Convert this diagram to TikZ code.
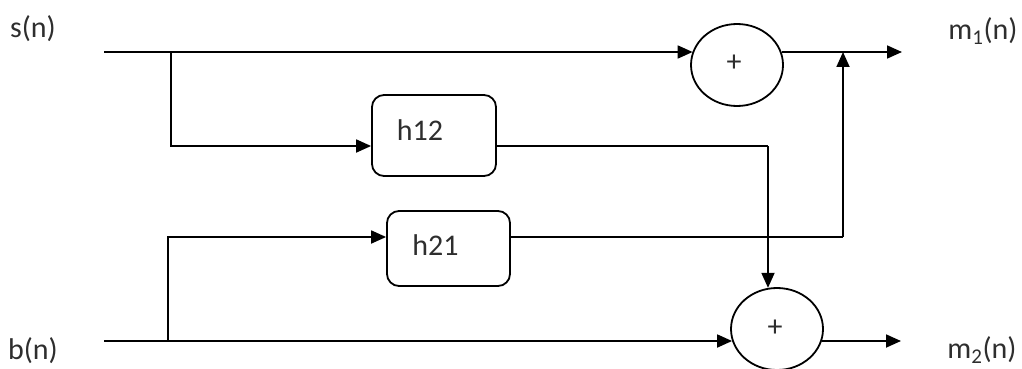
\documentclass[tikz,border=0pt]{standalone}
\usepackage{fontspec}
\setmainfont{Carlito}
\usetikzlibrary{shapes.geometric,arrows.meta}
\tikzset{
  x=1pt, y=-1pt,
  wire/.style={line width=1.8pt},
  arr/.style={wire, -{Triangle[length=15pt,width=13pt]}},
  sumnode/.style={ellipse, draw, line width=1.8pt, minimum width=92pt, minimum height=82pt, inner sep=0pt},
  filt/.style={draw, line width=1.8pt, rounded corners=12pt, inner sep=0pt},
  txt/.style={inner sep=0pt, text=black!82, font=\fontsize{30}{36}\selectfont},
}
\begin{document}
\begin{tikzpicture}
\useasboundingbox (0,0) rectangle (1022,369);

% signal labels
\node[txt] (sl) at (33,29) {s(n)};
\node[txt] (bl) at (33,351) {b(n)};
\node[txt] (m1l) at (983,31) {m\textsubscript{1}(n)};
\node[txt] (m2l) at (982,350) {m\textsubscript{2}(n)};

% adders
\node[sumnode] (sum1) at (737,65) {};
\node[txt] (p1) at (734,63) {+};
\node[sumnode] (sum2) at (777,329) {};
\node[txt] (p2) at (775,328) {+};

% cross filters
\node[filt, minimum width=124pt, minimum height=81pt] (h12) at (434,135.5) {};
\node[txt] (h12t) at (420,130) {h12};
\node[filt, minimum width=123pt, minimum height=75pt] (h21) at (448.5,248.5) {};
\node[txt] (h21t) at (435.5,245) {h21};

% wiring points
\coordinate (sin) at (104,52);
\coordinate (j1) at (171,52);
\coordinate (bin) at (104,341);
\coordinate (j2) at (168,341);
\coordinate (r12) at (0,146);
\coordinate (r21) at (0,237);
\coordinate (up) at (843,52);
\coordinate (down) at (768,146);
\coordinate (o1) at (902,52);
\coordinate (o2) at (901,341);

% direct paths
\draw[arr] (sin) -- (sin -| sum1.163.4);
\draw[arr] (bin) -- (bin -| sum2.195.3);
\draw[arr] (sum1.16.6 |- sin) -- (o1);
\draw[arr] (sum2.344.7 |- bin) -- (o2);

% s(n) -> h12 -> second adder
\draw[arr] (j1) |- (h12.west |- r12);
\draw[wire] (h12.east |- r12) -- (down);
\draw[arr] (down) -- (down |- sum2.102.6);

% b(n) -> h21 -> first output
\draw[arr] (j2) |- (h21.west |- r21);
\draw[wire] (h21.east |- r21) -| (up |- r21);
\draw[arr] (up |- r21) -- (up);
\end{tikzpicture}
\end{document}
